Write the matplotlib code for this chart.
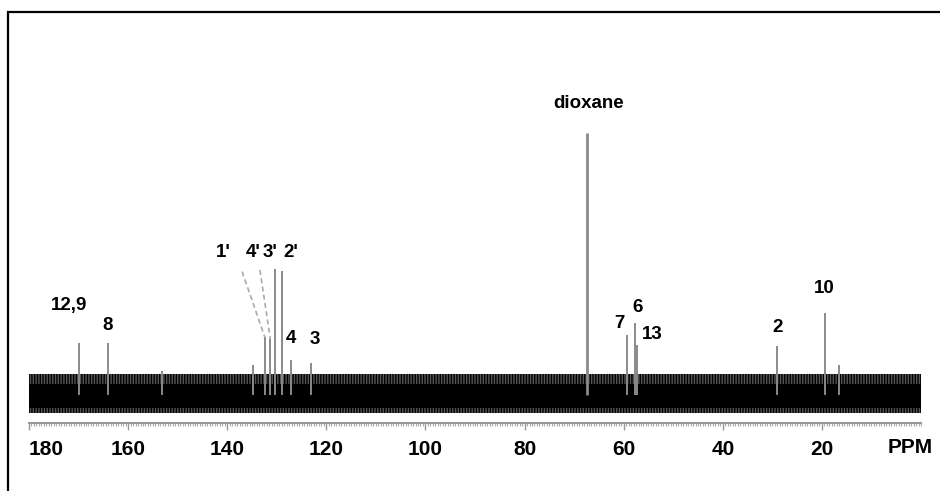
import matplotlib.pyplot as plt
from matplotlib.patches import Rectangle

# 13C NMR peaks: shift (ppm) and height (dioxane = 100)
shifts = [169.9, 164.1, 153.1, 134.7, 132.4, 131.3, 130.4, 129.0, 127.1, 123.0,
          67.35, 59.35, 57.7, 57.4, 29.1, 19.3, 16.6]
heights = [19.8, 19.8, 9.3, 11.5, 22.0, 21.4, 48.0, 47.3, 13.4, 12.2,
           100.0, 22.9, 27.5, 19.1, 18.7, 31.3, 11.5]

# peak labels
labels = ['12,9', '8', "1'", "4'", "3'", "2'", '4', '3', 'dioxane', '7', '6', '13', '2', '10']
label_x = [171.9, 164.1, 140.8, 134.8, 131.3, 127.1, 127.2, 122.4, 67.0, 60.8, 57.1, 54.2, 28.9, 19.5]
label_y = [34.0, 26.7, 54.2, 54.2, 54.2, 54.2, 21.4, 21.0, 111.1, 27.1, 33.2, 22.9, 25.6, 40.8]

# dashed leaders: label end -> peak index
leaders = [((137.0, 47.1), 4), ((133.4, 47.7), 5)]

tick_ppm = [180, 160, 140, 120, 100, 80, 60, 40, 20]

font = ['Liberation Sans', 'DejaVu Sans']

fig = plt.figure(figsize=(9.4, 4.91), dpi=100)
ax = fig.add_axes([29 / 940, (491 - 423) / 491, 892 / 940, 323 / 491])
ax.set_xlim(180, 0)
ax.set_ylim(-10.7, 112.6)

# baseline noise band
ax.fill_between([180, 0], -6.9, 8.0, facecolor='#555555', edgecolor='black',
                hatch='||||||', linewidth=0)
ax.fill_between([180, 0], -5.0, 4.0, color='black', linewidth=0)

# peaks
for s, h in zip(shifts, heights):
    lw = 2.0 if h >= 90 else 1.4
    ax.vlines(s, 0, h, color='#8a8a8a', linewidth=lw)

for (x0, y0), i in leaders:
    ax.plot([x0, shifts[i]], [y0, heights[i]], color='#aaaaaa', linewidth=1.2,
            linestyle=(0, (3, 2)))

for t, x, y in zip(labels, label_x, label_y):
    ax.text(x, y, t, ha='center', va='center', fontsize=13.5, fontweight='bold',
            family=font, color='black')

# axis styling
for side in ['left', 'right', 'top']:
    ax.spines[side].set_visible(False)
ax.spines['bottom'].set_color('#999999')
ax.spines['bottom'].set_linewidth(1.5)
ax.set_yticks([])
ax.set_xticks(tick_ppm)
ax.set_xticks([v / 2 for v in range(0, 361)], minor=True)
ax.tick_params(axis='x', which='major', length=5, width=1, color='#999999', pad=7)
ax.tick_params(axis='x', which='minor', length=2.5, width=0.8, color='#aaaaaa')
ax.set_xticklabels([str(v) for v in tick_ppm], fontsize=15, fontweight='bold', family=font)
ax.get_xticklabels()[0].set_ha('left')
ax.text(-2.3, -0.077, 'PPM', transform=ax.get_xaxis_transform(), ha='right', va='center',
        fontsize=15, fontweight='bold', family=font)

# outer frame running off the right and bottom edges
fig.patches.append(Rectangle((8 / 940, -0.2), 2.0, 1.2 - 12 / 491, transform=fig.transFigure,
                             fill=False, edgecolor='black', linewidth=1.6, clip_on=False))

fig.savefig('out.png', dpi=100)
